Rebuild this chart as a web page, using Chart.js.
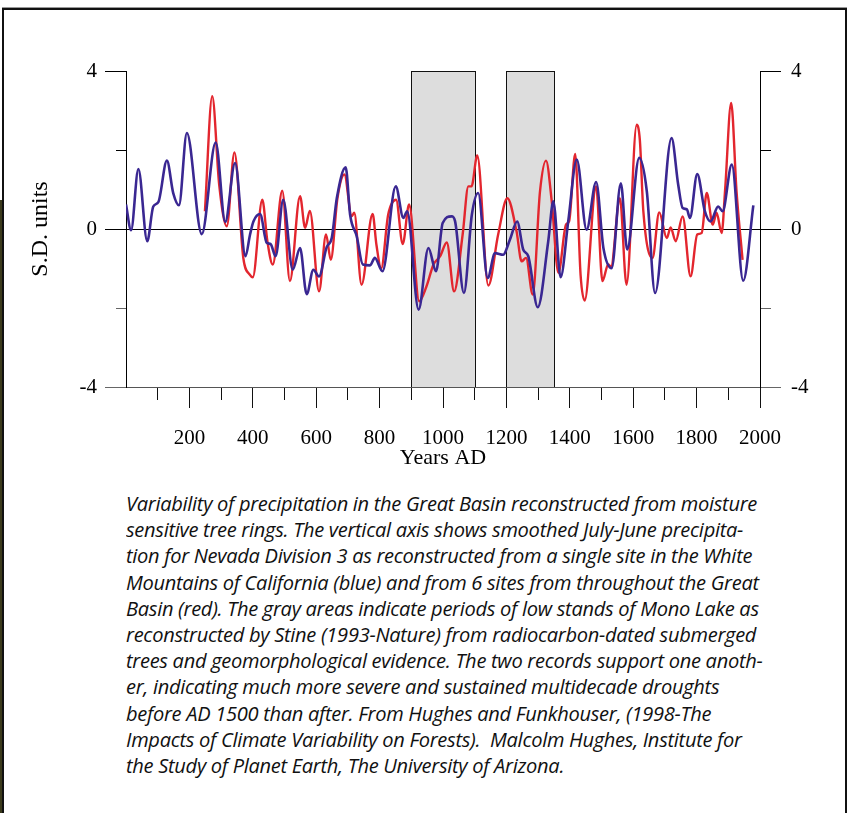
<!DOCTYPE html>
<html>
<head>
<meta charset="utf-8">
<title>Great Basin precipitation</title>
<script src="https://cdn.jsdelivr.net/npm/chart.js@4.4.0/dist/chart.umd.min.js"></script>
<style>
  html, body { margin: 0; padding: 0; background: #fff; }
  body { width: 849px; height: 813px; position: relative; overflow: hidden; }
  #frame { position: absolute; left: 2px; top: 8px; width: 841px; height: 830px;
           border: 2px solid #111; border-bottom: none; box-shadow: 0 -1px 0 #999; }
  #edge { position: absolute; left: 0; top: 200px; width: 2px; height: 613px; background: #3b3a1c; }
  #plot { position: absolute; left: 0; top: 0; }
  #caption { position: absolute; left: 126px; top: 490px; color: #111;
             font-family: "Open Sans", "Noto Sans", sans-serif;
             font-style: italic; font-size: 20.5px; line-height: 26.2px; letter-spacing: -0.3px;
             white-space: nowrap; transform-origin: 0 0; }
  #caption div { height: 26.2px; }
</style>
</head>
<body>
<div id="frame"></div>
<div id="edge"></div>
<canvas id="plot" width="849" height="477"></canvas>
<div id="caption"><div><span id="firstLine">Variability of precipitation in the Great Basin reconstructed from moisture</span></div><div>sensitive tree rings. The vertical axis shows smoothed July-June precipita-</div><div>tion for Nevada Division 3 as reconstructed from a single site in the White</div><div>Mountains of California (blue) and from 6 sites from throughout the Great</div><div>Basin (red). The gray areas indicate periods of low stands of Mono Lake as</div><div>reconstructed by Stine (1993-Nature) from radiocarbon-dated submerged</div><div>trees and geomorphological evidence. The two records support one anoth-</div><div>er, indicating much more severe and sustained multidecade droughts</div><div>before AD 1500 than after. From Hughes and Funkhouser, (1998-The</div><div>Impacts of Climate Variability on Forests).&nbsp; Malcolm Hughes, Institute for</div><div>the Study of Planet Earth, The University of Arizona.</div></div>
<script>
// single site, White Mountains (blue)
const blueYears = [0, 16, 39, 67, 86, 102, 129, 149, 167, 192, 239, 283, 313, 344, 377, 391, 402, 423,
  444, 456, 472, 496, 526, 549, 570, 591, 609, 633, 649, 665, 693, 707, 728, 747, 770, 785, 809,
  851, 875, 887, 923, 954, 978, 999, 1027, 1038, 1066, 1091, 1111, 1141, 1164, 1190, 1211, 1234,
  1253, 1269, 1299, 1332, 1348, 1371, 1395, 1422, 1453, 1483, 1506, 1532, 1561, 1581, 1619, 1643,
  1669, 1721, 1742, 1756, 1769, 1779, 1802, 1826, 1844, 1868, 1882, 1911, 1947, 1979];
const blueValues = [0.62, -0.03, 1.52, -0.31, 0.57, 0.68, 1.73, 0.91, 0.60, 2.43, -0.13, 2.19, 0.18, 1.67, -0.69, -0.15, 0.19, 0.38,
  -0.35, -0.38, -0.69, 0.74, -1.03, -0.48, -1.65, -1.03, -1.2, -0.46, -0.23, 0.78, 1.56, 0.36, -0.19, -0.9, -0.92, -0.73, -1.07,
  1.08, 0.28, 0.45, -2.04, -0.48, -1.07, 0.15, 0.32, 0.2, -1.62, 0.36, 0.91, -1.24, -0.61, -0.65, -0.27, 0.19,
  -0.52, -0.69, -1.98, -0.31, 0.70, -1.22, 0.19, 1.76, -0.02, 1.19, -0.48, -0.99, 1.16, -0.52, 1.80, 0.95,
  -1.62, 2.30, 1.12, 0.53, 0.50, 0.28, 1.39, 0.45, 0.19, 0.57, 0.45, 1.63, -1.31, 0.60];

// six sites across the Great Basin (red)
const redYears = [249, 272, 294, 318, 342, 370, 391, 400, 430, 446, 463, 493, 517, 549, 565, 580, 609, 631,
  646, 667, 689, 712, 720, 743, 778, 790, 805, 827, 852, 873, 893, 925, 948, 970, 991, 1012, 1035,
  1062, 1080, 1090, 1108, 1143, 1174, 1203, 1232, 1248, 1262, 1283, 1306, 1325, 1343, 1364, 1388,
  1398, 1417, 1434, 1447, 1483, 1503, 1521, 1530, 1558, 1579, 1611, 1621, 1632, 1661, 1682, 1706,
  1718, 1734, 1756, 1781, 1802, 1816, 1832, 1851, 1863, 1879, 1890, 1909, 1926, 1945];
const redValues = [0.45, 3.36, 1.12, 0.07, 1.94, -0.73, -1.16, -1.22, 0.74, -0.31, -0.90, 0.97, -1.32, 0.83, 0.03, 0.46, -1.58, -0.14,
  -0.78, 0.78, 1.38, 0.32, 0.41, -1.41, 0.38, -0.4, -1.0, 0.36, 0.74, -0.38, 0.62, -1.83, -1.45, -0.90, -0.69, -0.34, -1.58,
  -0.14, 1.08, 1.08, 1.86, -1.43, -0.14, 0.78, -0.06, -0.82, -0.73, -1.66, 0.95, 1.73, 0.70, -1.11, 0.11,
  0.2, 1.90, -1.16, -1.81, 1.08, -1.32, -0.9, -0.95, 0.78, -1.41, 2.64, 2.25, 0.45, -0.73, 0.42, -0.23,
  0.04, -0.31, 0.32, -1.2, -0.14, -0.1, 0.91, 0.11, 0.41, -0.1, 1.0, 3.19, 0.95, -0.78];

// Mono Lake low stands (Stine 1993)
const lowStandStart = [900, 1200];
const lowStandEnd = [1100, 1350];

const xLabelYears = [200, 400, 600, 800, 1000, 1200, 1400, 1600, 1800, 2000];
const yLabelValues = [-4, 0, 4];

const RED = '#e3262e';
const BLUE = '#3a2792';
const SERIF = 'Liberation Serif, Times New Roman, serif';

function toPoints(xs, ys) {
    return xs.map((x, i) => ({ x: x, y: ys[i] }));
}

// shaded periods, painted before the axes so the zero line runs over them
const lowStandBoxes = {
    id: 'lowStandBoxes',
    beforeDraw(chart) {
        const { ctx, chartArea, scales } = chart;
        ctx.save();
        lowStandStart.forEach((start, i) => {
            const x0 = Math.round(scales.x.getPixelForValue(start));
            const x1 = Math.round(scales.x.getPixelForValue(lowStandEnd[i]));
            const top = Math.round(chartArea.top), bottom = Math.round(chartArea.bottom);
            ctx.fillStyle = '#dddddd';
            ctx.fillRect(x0, top, x1 - x0, bottom - top);
            ctx.strokeStyle = '#111';
            ctx.lineWidth = 1;
            ctx.strokeRect(x0 + 0.5, top + 0.5, x1 - x0, bottom - top);
        });
        ctx.restore();
    }
};

// short ticks at +-2 are drawn as the inner part of a long tick
const minorY = v => Math.abs(v) === 2;

new Chart(document.getElementById('plot'), {
    type: 'line',
    data: {
        datasets: [
            {
                label: 'White Mountains',
                data: toPoints(blueYears, blueValues),
                borderColor: BLUE,
                borderWidth: 2.6,
                pointRadius: 0,
                cubicInterpolationMode: 'monotone',
                fill: false
            },
            {
                label: 'Great Basin',
                data: toPoints(redYears, redValues),
                borderColor: RED,
                borderWidth: 2.4,
                pointRadius: 0,
                cubicInterpolationMode: 'monotone',
                fill: false
            }
        ]
    },
    options: {
        responsive: false,
        animation: false,
        layout: { padding: { top: 71, left: 0, right: 0, bottom: 0 } },
        plugins: {
            legend: { display: false },
            tooltip: { enabled: false }
        },
        scales: {
            x: {
                type: 'linear',
                position: 'bottom',
                min: 0,
                max: 2000,
                afterFit: s => { s.height = 90; },
                ticks: {
                    stepSize: 100,
                    autoSkip: false,
                    maxRotation: 0,
                    padding: 18,
                    color: '#000',
                    font: { family: SERIF, size: 21 },
                    callback: v => xLabelYears.includes(v) ? String(v) : ''
                },
                grid: {
                    drawOnChartArea: false,
                    tickLength: 21,
                    tickColor: ctx => ctx.tick.value === 0 ? 'rgba(0,0,0,0)' : '#111',
                    tickBorderDash: ctx => ctx.tick.value % 200 === 0 ? [] : [12, 30]
                },
                border: { color: '#555', width: 1 },
                title: {
                    display: true,
                    text: 'Years AD',
                    color: '#000',
                    font: { family: SERIF, size: 22 },
                    padding: { top: 0, bottom: 6 }
                }
            },
            y: {
                position: 'left',
                min: -4,
                max: 4,
                afterFit: s => { s.width = 126; },
                ticks: {
                    stepSize: 2,
                    padding: 8,
                    color: '#000',
                    font: { family: SERIF, size: 21 },
                    callback: v => yLabelValues.includes(v) ? String(v) : ''
                },
                grid: {
                    tickLength: 21,
                    color: ctx => ctx.tick.value === 0 ? '#000' : 'rgba(0,0,0,0)',
                    tickColor: ctx => ctx.tick.value < 0 ? '#666' : '#000',
                    tickBorderDash: ctx => minorY(ctx.tick.value) ? [10, 11] : [],
                    tickBorderDashOffset: ctx => minorY(ctx.tick.value) ? 10 : 0
                },
                border: { color: '#000', width: 1 },
                title: {
                    display: true,
                    text: 'S.D. units',
                    color: '#000',
                    font: { family: SERIF, size: 24 },
                    padding: { top: 26, bottom: 0 }
                }
            },
            y2: {
                position: 'right',
                min: -4,
                max: 4,
                afterFit: s => { s.width = 89; },
                ticks: {
                    stepSize: 2,
                    padding: 10,
                    color: '#000',
                    font: { family: SERIF, size: 21 },
                    callback: v => yLabelValues.includes(v) ? String(v) : ''
                },
                grid: {
                    drawOnChartArea: false,
                    tickLength: 21,
                    tickColor: ctx => ctx.tick.value < 0 ? '#666' : '#000',
                    tickBorderDash: ctx => minorY(ctx.tick.value) ? [10, 11] : []
                },
                border: { color: '#000', width: 1 }
            }
        }
    },
    plugins: [lowStandBoxes]
});

// squeeze the caption so its first line spans the plot width
const cap = document.getElementById('caption');
const w = document.getElementById('firstLine').getBoundingClientRect().width;
cap.style.transform = 'scaleX(' + (631 / w).toFixed(4) + ')';
</script>
</body>
</html>
